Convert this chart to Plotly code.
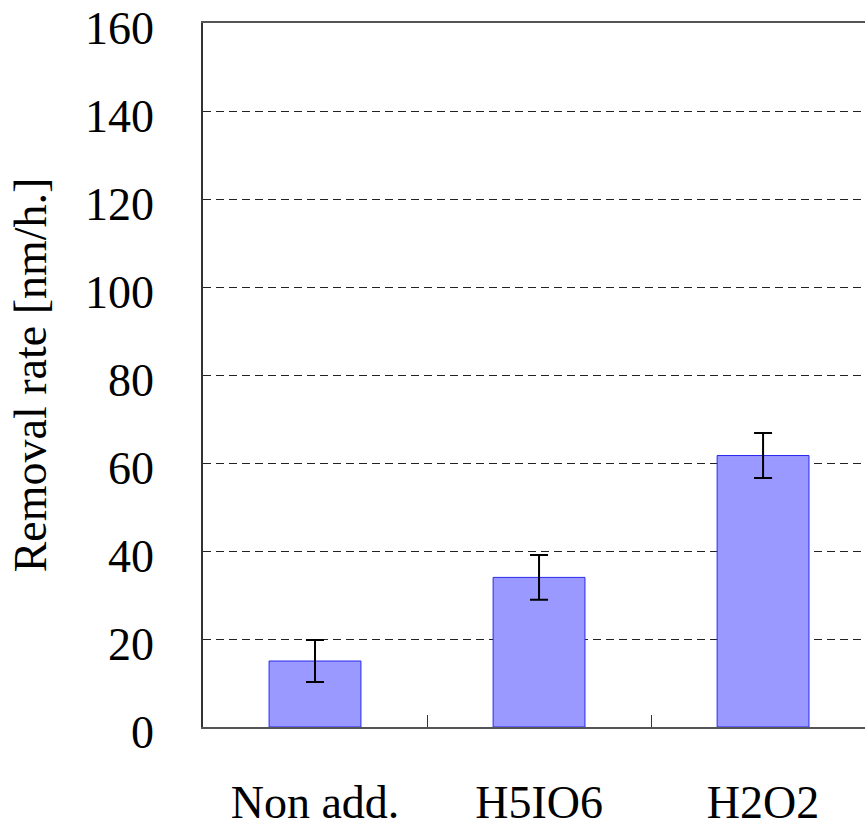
import plotly.graph_objects as go

# Removal rate per additive, with error bars
categories = ["Non add.", "H5IO6", "H2O2"]
removal_rate = [15.0, 34.0, 61.7]
rate_error = [4.8, 5.1, 5.1]
y_ticks = [0, 20, 40, 60, 80, 100, 120, 140, 160]

serif = "Times"

fig = go.Figure(
    go.Bar(
        x=categories,
        y=removal_rate,
        width=0.41,
        marker=dict(color="#9999FF", line=dict(color="#2828F0", width=1)),
        error_y=dict(type="data", array=rate_error, visible=True,
                     color="black", thickness=2, width=9),
    )
)

fig.update_layout(
    width=865,
    height=825,
    margin=dict(l=203, r=0, t=23, b=98),
    paper_bgcolor="white",
    plot_bgcolor="white",
    showlegend=False,
    font=dict(family=serif, color="black"),
)

fig.update_xaxes(
    type="category",
    range=[-0.5, 2.455],
    automargin=False,
    showline=True,
    linecolor="#555555",
    linewidth=2,
    mirror=True,
    tickson="boundaries",
    ticks="inside",
    ticklen=12,
    tickcolor="#333333",
    tickwidth=1,
    tickfont=dict(family=serif, size=46, color="black"),
    ticklabelstandoff=34,
    showgrid=False,
)

fig.update_yaxes(
    range=[0, 160],
    tickvals=y_ticks,
    automargin=False,
    ticklabeloverflow="allow",
    showline=True,
    linecolor="#333333",
    linewidth=1.5,
    ticks="",
    tickfont=dict(family=serif, size=46, color="black"),
    ticklabelstandoff=38,
    ticklabelshift=5,
    showgrid=True,
    gridcolor="#222222",
    gridwidth=1,
    griddash="8px,5px",
    zeroline=False,
    title=dict(text="Removal rate [nm/h.]", font=dict(family=serif, size=46, color="black"),
               standoff=24),
)

fig.write_html("out.html")
